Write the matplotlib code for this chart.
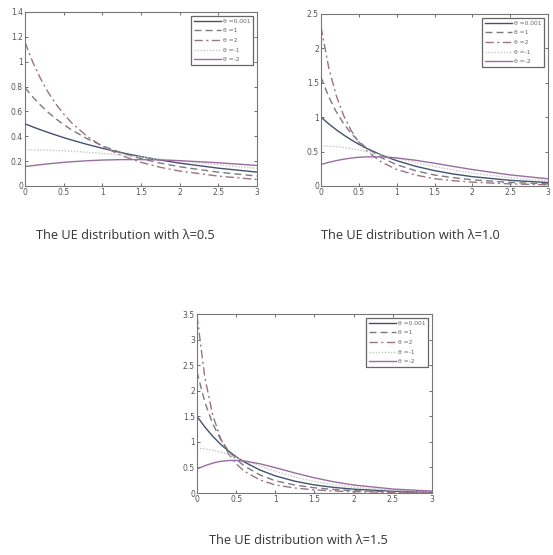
import matplotlib.pyplot as plt

# x grid shared by all curves
x = [0, 0.1, 0.2, 0.3, 0.4, 0.5, 0.6, 0.8, 1.0, 1.25, 1.5, 1.75, 2.0, 2.5, 3.0]

labels = ['\u03b8 =0.001', '\u03b8 =1', '\u03b8 =2', '\u03b8 =-1', '\u03b8 =-2']

# lambda = 0.5
l05_t0001 = [0.5, 0.4756, 0.4524, 0.4304, 0.4094, 0.3894, 0.3704, 0.3352, 0.3033, 0.2676, 0.2362, 0.2084, 0.1839, 0.1433, 0.1116]
l05_t1 = [0.7910, 0.7166, 0.6508, 0.5923, 0.5402, 0.4938, 0.4522, 0.3813, 0.3237, 0.2660, 0.2205, 0.1840, 0.1547, 0.1110, 0.0796]
l05_t2 = [1.1565, 0.9979, 0.8651, 0.7534, 0.6590, 0.5787, 0.5102, 0.4009, 0.3193, 0.2444, 0.1902, 0.1502, 0.1202, 0.0795, 0.0524]
l05_tm1 = [0.2910, 0.2906, 0.2896, 0.2879, 0.2856, 0.2827, 0.2794, 0.2712, 0.2616, 0.2479, 0.2330, 0.2173, 0.2014, 0.1702, 0.1412]
l05_tm2 = [0.1565, 0.1641, 0.1713, 0.1780, 0.1841, 0.1897, 0.1947, 0.2029, 0.2085, 0.2122, 0.2124, 0.2094, 0.2039, 0.1868, 0.1652]

# lambda = 1.0
l10_t0001 = [1.0, 0.9048, 0.8187, 0.7408, 0.6703, 0.6065, 0.5488, 0.4493, 0.3679, 0.2865, 0.2231, 0.1738, 0.1353, 0.0821, 0.0498]
l10_t1 = [1.5820, 1.3015, 1.0805, 0.9044, 0.7626, 0.6474, 0.5529, 0.4098, 0.3093, 0.2221, 0.1591, 0.1203, 0.0902, 0.0519, 0.0305]
l10_t2 = [2.3131, 1.7302, 1.3179, 1.0204, 0.8019, 0.6387, 0.5149, 0.3455, 0.2404, 0.1591, 0.1049, 0.0770, 0.0555, 0.0303, 0.0172]
l10_tm1 = [0.5820, 0.5792, 0.5712, 0.5587, 0.5425, 0.5232, 0.5015, 0.4535, 0.4028, 0.3403, 0.2825, 0.2311, 0.1870, 0.1196, 0.0749]
l10_tm2 = [0.3130, 0.3426, 0.3683, 0.3894, 0.4057, 0.4171, 0.4236, 0.4231, 0.4077, 0.3736, 0.3305, 0.2839, 0.2388, 0.1611, 0.1042]

# lambda = 1.5
l15_t0001 = [1.5, 1.2911, 1.1112, 0.9564, 0.8232, 0.7086, 0.6099, 0.4518, 0.3347, 0.2300, 0.1581, 0.1087, 0.0747, 0.0353, 0.0167]
l15_t1 = [2.3730, 1.7769, 1.3566, 1.0531, 0.8294, 0.6614, 0.5330, 0.3554, 0.2387, 0.1561, 0.1022, 0.0680, 0.0457, 0.0210, 0.0098]
l15_t2 = [3.4696, 2.2602, 1.5306, 1.0718, 0.7724, 0.5705, 0.4305, 0.2583, 0.1573, 0.0979, 0.0611, 0.0393, 0.0258, 0.0116, 0.0053]
l15_tm1 = [0.8730, 0.8637, 0.8381, 0.7997, 0.7523, 0.6989, 0.6425, 0.5289, 0.4237, 0.3122, 0.2251, 0.1599, 0.1124, 0.0545, 0.0261]
l15_tm2 = [0.4696, 0.5340, 0.5841, 0.6180, 0.6353, 0.6372, 0.6256, 0.5721, 0.4957, 0.3915, 0.2962, 0.2174, 0.1564, 0.0779, 0.0377]

styles = [
    dict(color='#44506e', ls='-', lw=1.0),
    dict(color='#7a7a80', ls=(0, (5, 3)), lw=1.0),
    dict(color='#9a7482', ls=(0, (6, 2.5, 1.5, 2.5)), lw=1.0),
    dict(color='#c4cabd', ls=(0, (1, 1.2)), lw=1.0),
    dict(color='#9a6ca2', ls='-', lw=1.0),
]

fig = plt.figure(figsize=(5.53, 5.55), dpi=100)

panels = [
    ([0.0452, 0.6649, 0.4195, 0.3135], [l05_t0001, l05_t1, l05_t2, l05_tm1, l05_tm2], 1.4, 0.2,
     'The UE distribution with \u03bb=0.5', (0.226, 0.576)),
    ([0.5805, 0.6649, 0.4105, 0.3099], [l10_t0001, l10_t1, l10_t2, l10_tm1, l10_tm2], 2.5, 0.5,
     'The UE distribution with \u03bb=1.0', (0.742, 0.576)),
    ([0.3562, 0.1117, 0.4250, 0.3225], [l15_t0001, l15_t1, l15_t2, l15_tm1, l15_tm2], 3.5, 0.5,
     'The UE distribution with \u03bb=1.5', (0.539, 0.027)),
]

for rect, curves, ymax, ystep, caption, cpos in panels:
    ax = fig.add_axes(rect)
    for ys, st, lab in zip(curves, styles, labels):
        ax.plot(x, ys, label=lab, **st)
    ax.set_xlim(0, 3)
    ax.set_ylim(0, ymax)
    ax.set_xticks([0, 0.5, 1, 1.5, 2, 2.5, 3])
    ax.set_xticklabels(['0', '0.5', '1', '1.5', '2', '2.5', '3'])
    yt = [round(i * ystep, 2) for i in range(int(round(ymax / ystep)) + 1)]
    ax.set_yticks(yt)
    ax.set_yticklabels([('%g' % v) for v in yt])
    ax.tick_params(direction='in', length=2, width=0.6, labelsize=5.5, colors='#555555',
                   top=True, right=True, pad=1.5)
    for sp in ax.spines.values():
        sp.set_color('#777777')
        sp.set_linewidth(0.8)
    leg = ax.legend(loc='upper right', fontsize=4.3, handlelength=4.5, handletextpad=0.3,
                    labelspacing=0.75, borderpad=0.5, fancybox=False, framealpha=1,
                    edgecolor='#666666', borderaxespad=0.6)
    leg.get_frame().set_linewidth(0.9)
    for t in leg.get_texts():
        t.set_color('#666666')
    fig.text(cpos[0], cpos[1], caption, ha='center', va='center', fontsize=9.2,
             family='Open Sans', color='#333333')

fig.savefig('out.png', dpi=100)
